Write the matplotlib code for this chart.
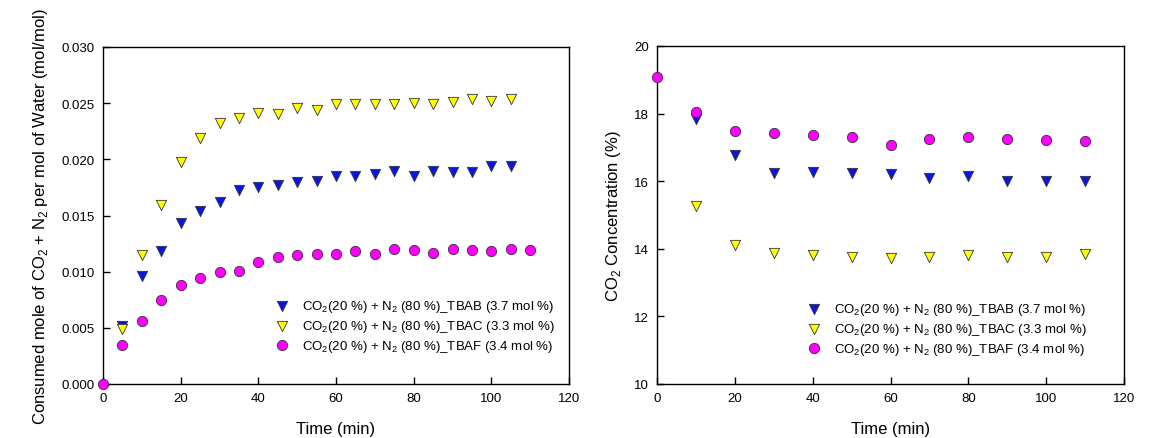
import numpy as np
import matplotlib
matplotlib.use('Agg')
import matplotlib.pyplot as plt

plt.rcParams['font.family'] = ['Liberation Sans', 'DejaVu Sans']
plt.rcParams['mathtext.fontset'] = 'custom'
plt.rcParams['mathtext.rm'] = 'Liberation Sans'

# ---- 左图：气体消耗量 ----
t_tbab = [5, 10, 15, 20, 25, 30, 35, 40, 45, 50, 55, 60, 65, 70, 75, 80, 85, 90, 95, 100, 105]
gas_tbab = [0.0052, 0.0096, 0.0118, 0.0143, 0.0154, 0.0162, 0.0173, 0.0175, 0.0177, 0.0180, 0.0181,
            0.0185, 0.0185, 0.0187, 0.0190, 0.0185, 0.0190, 0.0189, 0.0189, 0.0194, 0.0194]
t_tbac = [5, 10, 15, 20, 25, 30, 35, 40, 45, 50, 55, 60, 65, 70, 75, 80, 85, 90, 95, 100, 105]
gas_tbac = [0.0049, 0.0115, 0.0159, 0.0198, 0.0219, 0.0232, 0.0237, 0.0241, 0.0240, 0.0246, 0.0244,
            0.0249, 0.0249, 0.0249, 0.0249, 0.0250, 0.0249, 0.0251, 0.0254, 0.0252, 0.0254]
t_tbaf = [0, 5, 10, 15, 20, 25, 30, 35, 40, 45, 50, 55, 60, 65, 70, 75, 80, 85, 90, 95, 100, 105, 110]
gas_tbaf = [0.0, 0.0035, 0.0056, 0.0075, 0.0088, 0.0094, 0.0100, 0.0101, 0.0109, 0.0113, 0.0115, 0.0116,
            0.0116, 0.0118, 0.0116, 0.0120, 0.0119, 0.0117, 0.0120, 0.0119, 0.0118, 0.0120, 0.0119]

# ---- 右图：CO2 浓度 ----
t_conc = [10, 20, 30, 40, 50, 60, 70, 80, 90, 100, 110]
conc_tbab = [17.83, 16.78, 16.25, 16.27, 16.25, 16.20, 16.09, 16.14, 16.01, 16.02, 16.02]
conc_tbac = [15.28, 14.12, 13.88, 13.82, 13.77, 13.72, 13.75, 13.81, 13.76, 13.76, 13.84]
t_conc_f = [0, 10, 20, 30, 40, 50, 60, 70, 80, 90, 100, 110]
conc_tbaf = [19.08, 18.05, 17.48, 17.43, 17.37, 17.30, 17.06, 17.26, 17.30, 17.26, 17.23, 17.18]

labels = [r'CO$_2$(20 %) + N$_2$ (80 %)_TBAB (3.7 mol %)',
          r'CO$_2$(20 %) + N$_2$ (80 %)_TBAC (3.3 mol %)',
          r'CO$_2$(20 %) + N$_2$ (80 %)_TBAF (3.4 mol %)']

fig = plt.figure(figsize=(11.62, 4.39), dpi=100)
ax1 = fig.add_axes([103 / 1162, 1 - 385 / 439, 466 / 1162, 337 / 439])
ax2 = fig.add_axes([657 / 1162, 1 - 385 / 439, 467 / 1162, 338 / 439])

ms = 55
kw = dict(edgecolors='#333333', linewidths=0.6, zorder=3, clip_on=False)

ax1.scatter(t_tbab, gas_tbab, s=ms, marker='v', c='#0a14e6', label=labels[0], **kw)
ax1.scatter(t_tbac, gas_tbac, s=ms, marker='v', c='#ffff00', label=labels[1], **kw)
ax1.scatter(t_tbaf, gas_tbaf, s=ms, marker='o', c='#ff00ff', label=labels[2], **kw)

ax2.scatter(t_conc, conc_tbab, s=ms, marker='v', c='#0a14e6', label=labels[0], **kw)
ax2.scatter(t_conc, conc_tbac, s=ms, marker='v', c='#ffff00', label=labels[1], **kw)
ax2.scatter(t_conc_f, conc_tbaf, s=ms, marker='o', c='#ff00ff', label=labels[2], **kw)

ax1.set_xlim(0, 120)
ax1.set_ylim(0, 0.030)
ax1.set_xticks(np.arange(0, 121, 20))
ax1.set_yticks(np.arange(0, 0.0301, 0.005))
ax1.yaxis.set_major_formatter(matplotlib.ticker.FormatStrFormatter('%.3f'))
ax1.set_xlabel('Time (min)', fontsize=12, labelpad=12)
ax1.set_ylabel(r'Consumed mole of CO$_2$ + N$_2$ per mol of Water (mol/mol)', fontsize=12, labelpad=8)

ax2.set_xlim(0, 120)
ax2.set_ylim(10, 20)
ax2.set_xticks(np.arange(0, 121, 20))
ax2.set_yticks(np.arange(10, 21, 2))
ax2.set_xlabel('Time (min)', fontsize=12, labelpad=12)
ax2.set_ylabel(r'CO$_2$ Concentration (%)', fontsize=12, labelpad=8)

for ax in (ax1, ax2):
    ax.tick_params(direction='in', length=5, width=1, labelsize=9.5, top=False, right=False, pad=6)
    for sp in ax.spines.values():
        sp.set_linewidth(1)

leg_kw = dict(loc='lower right', frameon=False, fontsize=9.5, handletextpad=0.5,
              borderaxespad=0, labelspacing=0.28, scatterpoints=1)
ax1.legend(bbox_to_anchor=(0.98, 0.074), **leg_kw)
ax2.legend(bbox_to_anchor=(0.931, 0.065), **leg_kw)

fig.savefig('out.png', dpi=100)
